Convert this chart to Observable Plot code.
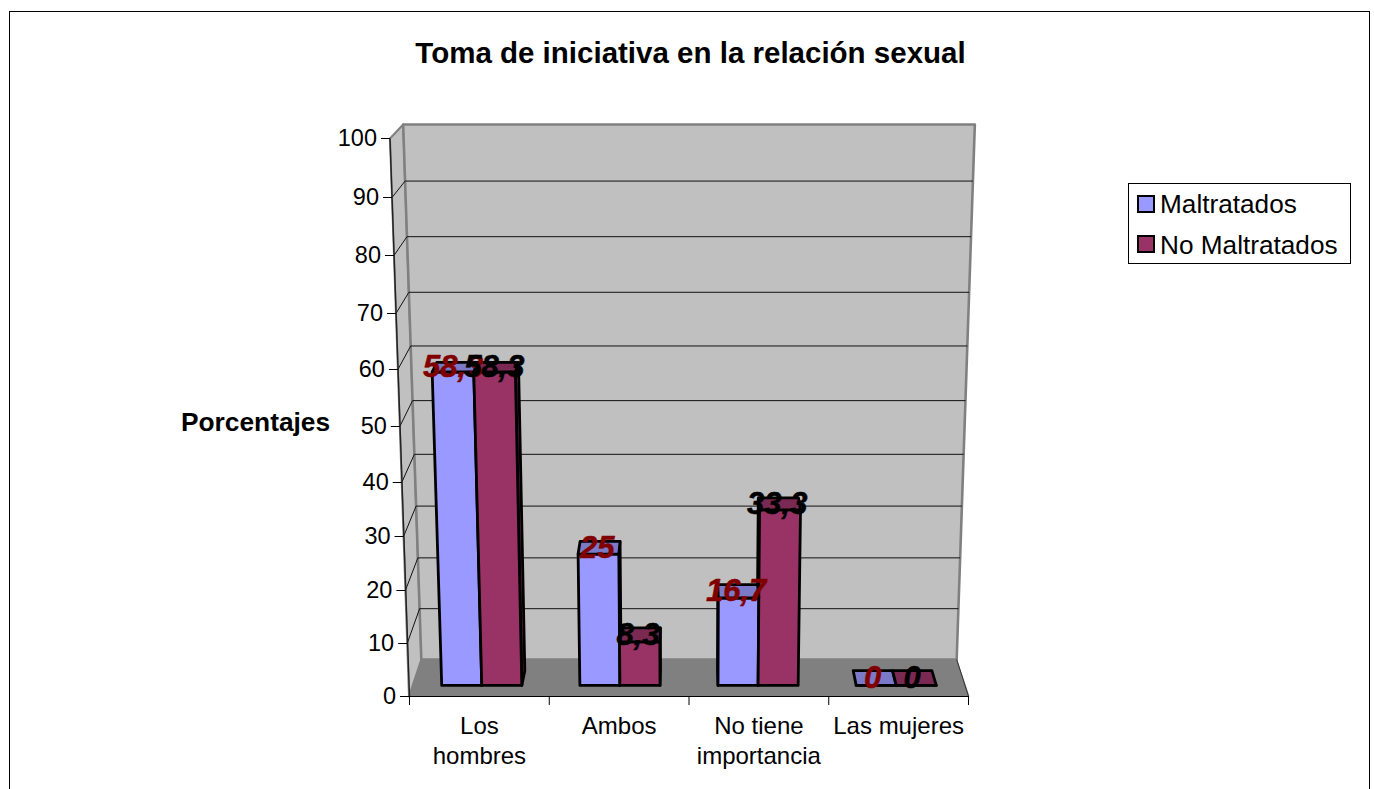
<!DOCTYPE html>
<html><head><meta charset="utf-8">
<script src="https://cdn.jsdelivr.net/npm/d3@7"></script>
<script src="https://cdn.jsdelivr.net/npm/@observablehq/plot@0.6"></script>
<style>
html,body{margin:0;padding:0;background:#fff;overflow:hidden;width:1374px;height:789px;font-family:"Liberation Sans",Arial,sans-serif;color:#000}
#frame{position:absolute;left:9px;top:11px;width:1359px;height:900px;border:1px solid #000;box-sizing:content-box}
#chart{position:absolute;left:0;top:0}
#title{position:absolute;left:0;width:1381px;top:36px;text-align:center;font-weight:bold;font-size:29.5px;line-height:34px}
#ylabel{position:absolute;left:181px;top:406px;font-weight:bold;font-size:26.3px;line-height:32px}
#legend{position:absolute;left:1128px;top:183px;width:221px;height:79px;border:1px solid #000;background:#fff}
.key{position:absolute;left:8px;width:14px;height:14px;border:2px solid #000}
.lab{position:absolute;left:31px;font-size:26.2px;line-height:30px;white-space:nowrap}
</style></head><body>
<div id="frame"></div>
<div id="chart"></div>
<div id="title">Toma de iniciativa en la relación sexual</div>
<div id="ylabel">Porcentajes</div>
<div id="legend">
  <div class="key" style="top:11px;background:#9999FF"></div><div class="lab" style="top:5px">Maltratados</div>
  <div class="key" style="top:51px;background:#993366"></div><div class="lab" style="top:46px">No Maltratados</div>
</div>
<script>
const categories = ["Los\nhombres", "Ambos", "No tiene\nimportancia", "Las mujeres"];
const maltratados = [58.3, 25, 16.7, 0];
const noMaltratados = [58.3, 8.3, 33.3, 0];
const yTicks = [0, 10, 20, 30, 40, 50, 60, 70, 80, 90, 100];

// layout: the front plane of the 3D box (uneven spacing comes from the perspective)
const frontRows = [696, 643, 590, 536, 482, 426, 369, 313, 255, 197, 138];
const frontY = d3.scaleLinear().domain(yTicks).range(frontRows);
const frontX = d3.scaleLinear().domain([0, 4]).range([409, 968]);
const frontD = 0.3, backD = 0.7, halfBar = 0.29;

// (category position, value, depth 0..1) -> front-plane data coordinates
function project(c, v, d) {
  const fy = frontY(v), up = (696 - fy) / 558;
  const py = fy + d * (-37 + up * 23);
  const px = 688.5 + (c - 2) / 2 * (280 + up * 19) * (1 - 0.044 * d);
  return {x: frontX.invert(px), y: frontY.invert(py)};
}
const poly = (...corners) => {
  const pts = corners.map(k => project(...k));
  pts.push(pts[0]);
  return pts;
};
const lineFace = (pts, fill, stroke, strokeWidth) =>
  Plot.line(pts, {x: "x", y: "y", fill, stroke, strokeWidth, strokeLinejoin: "round", curve: "linear"});

function faces(values, series) {
  const side = [], front = [], top = [];
  values.forEach((v, i) => {
    const mid = i + 0.5;
    const c0 = series === 0 ? mid - halfBar : mid;
    const c1 = series === 0 ? mid : mid + halfBar;
    const cs = mid < 2 ? c1 : c0;
    if (v > 0) {
      side.push(poly([cs, 0, frontD], [cs, v, frontD], [cs, v, backD], [cs, 0, backD]));
      front.push(poly([c0, 0, frontD], [c1, 0, frontD], [c1, v, frontD], [c0, v, frontD]));
    } else {
      front.push(poly([c0, 0, frontD], [c1, 0, frontD]));
    }
    top.push(poly([c0, v, frontD], [c1, v, frontD], [c1, v, backD], [c0, v, backD]));
  });
  return {side, front, top};
}
const fa = faces(maltratados, 0), fb = faces(noMaltratados, 1);
const BLUE = "#9999FF", MAROON = "#993366", BLUE_DK = "#7A7AC8", MAROON_DK = "#7A2952";
const bw = 2.8;

const labelPoints = (values, offset) => values.map((v, i) => ({
  ...project(i + 0.5 + offset, v, 0.5), t: String(v).replace(".", ",")
}));
const inner = yTicks.filter(v => v > 0 && v < 100);

const chart = Plot.plot({
  width: 1374, height: 789,
  marginLeft: 409, marginRight: 406, marginTop: 138, marginBottom: 93,
  style: {background: "transparent", fontFamily: "'Liberation Sans', Arial, sans-serif"},
  x: {type: "linear", domain: [0, 4], axis: null, label: null},
  y: {type: "linear", domain: yTicks, range: frontRows, axis: null, label: null},
  marks: [
    lineFace(poly([0, 0, 0], [0, 100, 0], [0, 100, 1], [0, 0, 1]), "#C0C0C0", "#808080", 2),
    lineFace(poly([0, 0, 1], [0, 100, 1], [4, 100, 1], [4, 0, 1]), "#C0C0C0", "#808080", 2.6),
    lineFace(poly([0, 0, 0], [4, 0, 0], [4, 0, 1], [0, 0, 1]), "#808080", "#808080", 1),
    Plot.link(inner, {
      x1: v => project(0, v, 1).x, y1: v => project(0, v, 1).y,
      x2: v => project(4, v, 1).x, y2: v => project(4, v, 1).y,
      stroke: "#111", strokeWidth: 1
    }),
    Plot.link(inner, {
      x1: v => project(0, v, 0).x, y1: v => project(0, v, 0).y,
      x2: v => project(0, v, 1).x, y2: v => project(0, v, 1).y,
      stroke: "#111", strokeWidth: 1
    }),
    // front edge and baseline
    Plot.link([0], {x1: () => 0, y1: () => 0, x2: () => project(0, 100, 0).x, y2: () => 100, stroke: "#222", strokeWidth: 1.4}),
    Plot.link([0], {x1: () => 0, y1: () => 0, x2: () => 4, y2: () => 0, stroke: "#000", strokeWidth: 1}),
    Plot.link([0], {x1: () => 4, y1: () => 0, x2: () => project(4, 0, 1).x, y2: () => project(4, 0, 1).y, stroke: "#333", strokeWidth: 1}),
    // y ticks and labels follow the slanted front edge
    Plot.link(yTicks, {
      x1: v => project(0, v, 0).x - 9 / 139.75, x2: v => project(0, v, 0).x,
      y1: v => v, y2: v => v, stroke: "#000", strokeWidth: 1
    }),
    Plot.text(yTicks, {
      x: v => project(0, v, 0).x, y: v => v, text: v => String(v),
      textAnchor: "end", dx: -13, fontSize: 23.5, fill: "#000"
    }),
    // bars
    ...fa.side.map(p => lineFace(p, BLUE_DK, "#000", bw)),
    ...fb.side.map(p => lineFace(p, MAROON_DK, "#000", bw)),
    ...fa.front.map(p => lineFace(p, BLUE, "#000", bw)),
    ...fb.front.map(p => lineFace(p, MAROON, "#000", bw)),
    ...fa.top.map(p => lineFace(p, BLUE_DK, "#000", bw)),
    ...fb.top.map(p => lineFace(p, MAROON_DK, "#000", bw)),
    // x axis
    Plot.axisX({ticks: [0, 1, 2, 3, 4], tickSize: 9, tickFormat: () => "", stroke: "#000", label: null}),
    Plot.axisX(categories.map((_, i) => i + 0.5), {
      tickSize: 0, tickPadding: 16, fontSize: 24, lineHeight: 1.25, fill: "#000", label: null,
      tickFormat: t => categories[t - 0.5], textOverflow: null, lineWidth: Infinity
    }),
    // value labels
    Plot.text(labelPoints(maltratados, -halfBar / 2), {
      x: "x", y: "y", text: "t", fontSize: 31, fontWeight: "bold", fontStyle: "italic", dx: -2,
      fill: "#800000", stroke: "#800000", strokeWidth: 0.5, lineAnchor: "middle"
    }),
    Plot.text(labelPoints(noMaltratados, halfBar / 2), {
      x: "x", y: "y", text: "t", fontSize: 31, fontWeight: "bold", fontStyle: "italic", dx: -2,
      fill: "#000", stroke: "#000", strokeWidth: 0.5, lineAnchor: "middle"
    })
  ]
});
document.getElementById("chart").append(chart);
</script>
</body></html>
